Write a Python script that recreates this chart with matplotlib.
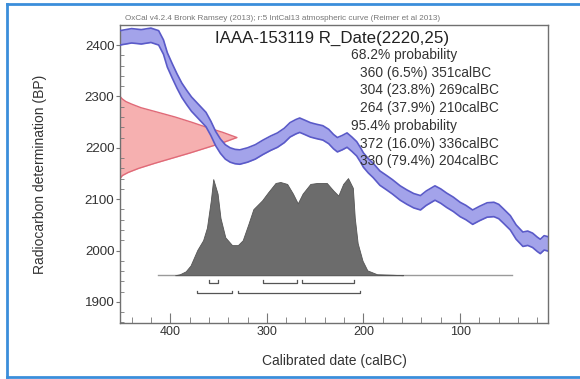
import numpy as np
import matplotlib.pyplot as plt
from matplotlib.lines import Line2D
from matplotlib.ticker import MultipleLocator

plt.rcParams["font.family"] = ["Liberation Sans", "DejaVu Sans"]

# IntCal13 calibration curve (centre line)
curve_cal = [452, 440, 430, 420, 412, 407, 403, 398, 393, 388, 383, 378, 373,
             368, 363, 358, 353, 348, 343, 338, 333, 328, 320, 312, 304, 296,
             289, 282, 276, 270, 266, 261, 255, 249, 242, 236, 231, 227, 222,
             217, 212, 207, 203, 200, 195, 190, 183, 176, 170, 162, 155, 148,
             141, 135, 126, 120, 114, 107, 100, 94, 87, 80, 72, 65, 60, 55,
             48, 42, 35, 30, 25, 20, 17, 13, 9]
curve_bp = [2414, 2418, 2416, 2419, 2414, 2396, 2371, 2350, 2330, 2312, 2298,
            2285, 2275, 2265, 2255, 2238, 2218, 2203, 2192, 2186, 2183, 2182,
            2186, 2192, 2201, 2209, 2215, 2224, 2235, 2241, 2244, 2240, 2235,
            2232, 2229, 2222, 2212, 2206, 2210, 2215, 2207, 2198, 2186, 2176,
            2165, 2156, 2141, 2132, 2124, 2112, 2104, 2097, 2093, 2102, 2112,
            2106, 2098, 2090, 2080, 2074, 2065, 2072, 2079, 2080, 2076, 2067,
            2054, 2036, 2022, 2024, 2020, 2012, 2008, 2015, 2013]
curve_err = 14

# R_Date(2220,25) radiocarbon profile: BP value and relative width
rdate_bp = [2300, 2295, 2290, 2285, 2278, 2270, 2260, 2250, 2240, 2230, 2220,
            2210, 2200, 2190, 2180, 2170, 2160, 2152, 2146, 2140]
rdate_prob = [0.00, 0.02, 0.05, 0.10, 0.18, 0.31, 0.47, 0.61, 0.74, 0.88,
              1.00, 0.88, 0.74, 0.60, 0.45, 0.30, 0.16, 0.07, 0.02, 0.00]

# Calibrated date distribution
post_cal = [395, 390, 384, 379, 372, 366, 362, 358, 355.5, 351, 348, 343, 336,
            330, 325, 319, 314, 305, 299, 291, 286, 279, 273, 268, 263, 255,
            248, 238, 231, 226, 221, 216, 211, 209, 206, 201, 196, 186, 170, 159]
post_prob = [0.0, 0.01, 0.04, 0.10, 0.26, 0.36, 0.49, 0.77, 0.99, 0.84, 0.59,
             0.39, 0.31, 0.31, 0.36, 0.53, 0.68, 0.77, 0.85, 0.95, 0.96, 0.94,
             0.84, 0.74, 0.84, 0.94, 0.95, 0.95, 0.87, 0.82, 0.94, 1.0, 0.90,
             0.59, 0.33, 0.15, 0.05, 0.01, 0.005, 0.0]

# Highest probability ranges
ranges_68 = [(360, 351), (304, 269), (264, 210)]
ranges_95 = [(372, 336), (330, 204)]
pct_68 = [6.5, 23.8, 37.9]
pct_95 = [16.0, 79.4]

title = "IAAA-153119 R_Date(2220,25)"
header = ("OxCal v4.2.4 Bronk Ramsey (2013); r:5 IntCal13 atmospheric curve "
          "(Reimer et al 2013)")

W, H = 580, 379
fig = plt.figure(figsize=(W / 100, H / 100), dpi=100)
ax = fig.add_axes([120 / W, 1 - 323 / H, 428 / W, 298 / H])

x_left, x_right = 452, 9
y_low, y_high = 1859, 2439

# calibration curve band
cal = np.array(curve_cal, dtype=float)
bp = np.array(curve_bp, dtype=float)
ax.fill_between(cal, bp - curve_err, bp + curve_err, color="#a3a3ea",
                linewidth=0, zorder=2)
ax.plot(cal, bp - curve_err, color="#5a5ac8", lw=1.2, zorder=3)
ax.plot(cal, bp + curve_err, color="#5a5ac8", lw=1.2, zorder=3)

# radiocarbon date profile on the y axis
r_w = np.array(rdate_prob) * 121
ax.fill_betweenx(rdate_bp, x_left, x_left - r_w, color="#f6a8a8",
                 alpha=0.9, linewidth=0, zorder=1)
ax.plot(x_left - r_w, rdate_bp, color="#e06a78", lw=1.0, zorder=1)

# calibrated distribution
base = 1952
peak_h = 189
p_h = np.array(post_prob) * peak_h
ax.plot([413, 46], [base, base], color="#9a9a9a", lw=1.0, zorder=4)
ax.fill_between(post_cal, base, base + p_h, color="#6c6c6c",
                linewidth=0.6, edgecolor="#555555", zorder=5)


# range brackets
def bracket(lo, hi, y):
    ax.plot([lo, lo, hi, hi], [y + 5, y, y, y + 5], color="#555555",
            lw=0.9, zorder=5)


for lo, hi in ranges_68:
    bracket(lo, hi, 1937)
for lo, hi in ranges_95:
    bracket(lo, hi, 1917)

ax.set_xlim(x_left, x_right)
ax.set_ylim(y_low, y_high)
ax.xaxis.set_major_locator(MultipleLocator(100))
ax.xaxis.set_minor_locator(MultipleLocator(20))
ax.yaxis.set_major_locator(MultipleLocator(100))
ax.yaxis.set_minor_locator(MultipleLocator(20))
ax.tick_params(axis="x", which="both", direction="in", length=4,
               color="#777777", labelsize=9, labelcolor="#333333", pad=2)
ax.tick_params(axis="x", which="major", length=7)
ax.tick_params(axis="y", which="major", direction="out", length=3,
               color="#777777", labelsize=9.6, labelcolor="#333333", pad=1)
ax.tick_params(axis="y", which="minor", direction="in", length=3,
               color="#777777")
for s in ax.spines.values():
    s.set_color("#707070")
    s.set_linewidth(1.0)

ax.set_xlabel("Calibrated date (calBC)", fontsize=10, color="#333333",
              labelpad=12)
ax.set_ylabel("Radiocarbon determination (BP)", fontsize=10,
              color="#333333", labelpad=27)

# texts
fig.text(125 / W, 1 - 19 / H, header, fontsize=5.9, color="#777777",
         va="center", ha="left")
fig.text(215 / W, 1 - 38 / H, title, fontsize=12.2, color="#222222",
         va="center", ha="left")

lines = ["68.2% probability"]
lines += [f"  {lo} ({p}%) {hi}calBC" for (lo, hi), p in zip(ranges_68, pct_68)]
lines += ["95.4% probability"]
lines += [f"  {lo} ({p}%) {hi}calBC" for (lo, hi), p in zip(ranges_95, pct_95)]
for i, s in enumerate(lines):
    indent = s.startswith("  ")
    fig.text((360 if indent else 351) / W, 1 - (55 + i * 17.7) / H,
             s.strip(), fontsize=9.9, color="#333333", va="center", ha="left")

# outer frame
frame_c = "#3b8edb"
fig.add_artist(Line2D([7 / W, 7 / W], [1 - 377 / H, 1 - 4 / H],
                      color=frame_c, lw=2, transform=fig.transFigure))
fig.add_artist(Line2D([7 / W, 1], [1 - 4 / H, 1 - 4 / H],
                      color=frame_c, lw=2, transform=fig.transFigure))
fig.add_artist(Line2D([7 / W, 1], [1 - 377 / H, 1 - 377 / H],
                      color=frame_c, lw=2, transform=fig.transFigure))

fig.savefig("out.png", dpi=100)
